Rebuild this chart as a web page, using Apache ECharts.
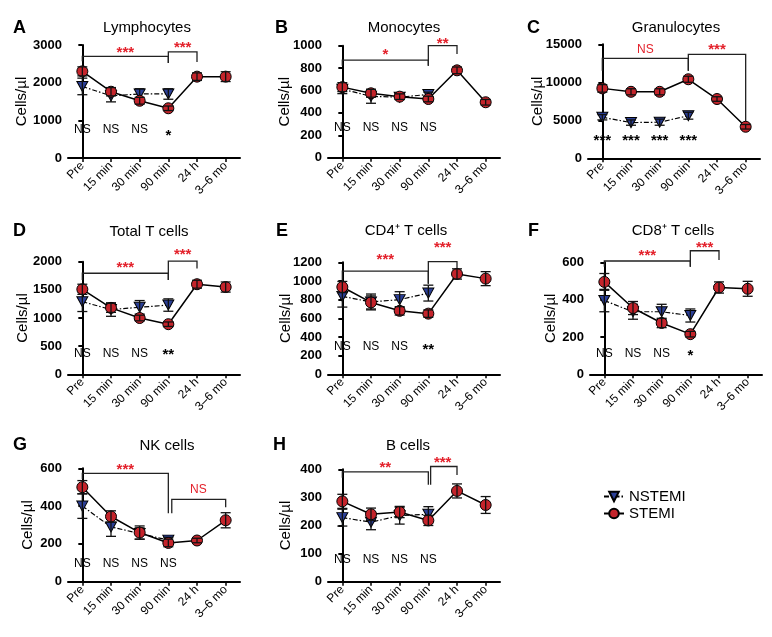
<!DOCTYPE html>
<html><head><meta charset="utf-8">
<script src="https://cdn.jsdelivr.net/npm/echarts@6/dist/echarts.min.js"></script>
<style>html,body{margin:0;padding:0;background:#fff}#c{width:772px;height:637px}</style>
</head><body><div id="c"></div>
<script>
const categories = ['Pre', '15 min', '30 min', '90 min', '24 h', '3–6 mo'];

// A Lymphocytes
const lymphStemi = [2300, 1760, 1520, 1320, 2160, 2160];
const lymphStemiErr = [120, 110, 90, 60, 100, 130];
const lymphNstemi = [1900, 1650, 1700, 1700];
const lymphNstemiErr = [220, 160, 140, 140];
const lymphBrackets = [[0, 3, 2700, 2570, 2520], [3, 4, 2820, 2520, 2550]];
const lymphLabels = [[1.5, 2800, '***', 'r'], [3.5, 2920, '***', 'r'], [0, 740, 'NS', 'k'], [1, 740, 'NS', 'k'], [2, 740, 'NS', 'k'], [3, 590, '*', 'k']];

// B Monocytes
const monoStemi = [630, 575, 545, 524, 780, 495];
const monoStemiErr = [40, 35, 25, 25, 30, 25];
const monoNstemi = [612, 548, 540, 565];
const monoNstemiErr = [40, 62, 20, 20];
const monoBrackets = [[0, 3, 872, 821, 821], [3, 4, 1000, 821, 926]];
const monoLabels = [[1.5, 920, '*', 'r'], [3.5, 1018, '**', 'r'], [0, 268, 'NS', 'k'], [1, 268, 'NS', 'k'], [2, 268, 'NS', 'k'], [3, 268, 'NS', 'k']];

// C Granulocytes
const granStemi = [9200, 8750, 8750, 10400, 7800, 4150];
const granStemiErr = [500, 400, 400, 400, 300, 300];
const granNstemi = [5400, 4700, 4750, 5600];
const granNstemiErr = [350, 350, 400, 450];
const granBrackets = [[0, 3, 13160, 11530, 11530], [3, 5, 13680, 11530, 4600]];
const granLabels = [[1.5, 14250, 'NS', 'r'], [4, 14290, '***', 'r'], [0, 2240, '***', 'k'], [1, 2240, '***', 'k'], [2, 2240, '***', 'k'], [3, 2240, '***', 'k']];

// D Total T cells
const tStemi = [1510, 1180, 1000, 890, 1600, 1550];
const tStemiErr = [90, 80, 50, 40, 70, 90];
const tNstemi = [1290, 1150, 1190, 1230];
const tNstemiErr = [175, 120, 120, 110];
const tBrackets = [[0, 3, 1795, 1675, 1675], [3, 4, 2010, 1675, 1880]];
const tLabels = [[1.5, 1888, '***', 'r'], [3.5, 2124, '***', 'r'], [0, 373, 'NS', 'k'], [1, 373, 'NS', 'k'], [2, 373, 'NS', 'k'], [3, 348, '**', 'k']];

// E CD4+ T cells
const cd4Stemi = [935, 770, 680, 650, 1075, 1025];
const cd4StemiErr = [60, 70, 45, 40, 55, 75];
const cd4Nstemi = [835, 775, 800, 870];
const cd4NstemiErr = [115, 85, 85, 85];
const cd4Brackets = [[0, 3, 1105, 1000, 970], [3, 4, 1207, 970, 1125]];
const cd4Labels = [[1.5, 1222, '***', 'r'], [3.5, 1354, '***', 'r'], [0, 296, 'NS', 'k'], [1, 296, 'NS', 'k'], [2, 296, 'NS', 'k'], [3, 264, '**', 'k']];

// F CD8+ T cells
const cd8Stemi = [495, 355, 275, 215, 465, 458];
const cd8StemiErr = [45, 35, 25, 15, 30, 40];
const cd8Nstemi = [395, 335, 335, 315];
const cd8NstemiErr = [60, 40, 40, 35];
const cd8Brackets = [[0, 3, 607, 576, 576], [3, 4, 662, 576, 612]];
const cd8Labels = [[1.5, 632, '***', 'r'], [3.5, 680, '***', 'r'], [0, 112, 'NS', 'k'], [1, 112, 'NS', 'k'], [2, 112, 'NS', 'k'], [3, 100, '*', 'k']];

// G NK cells
const nkStemi = [500, 345, 260, 205, 218, 325];
const nkStemiErr = [35, 30, 35, 20, 12, 40];
const nkNstemi = [400, 290, 255, 220];
const nkNstemiErr = [65, 50, 30, 15];
const nkBrackets = [[0, 3, 573, 543, 362], [3.12, 5, 436, 362, 394]];
const nkLabels = [[1.5, 593, '***', 'r'], [4.05, 485, 'NS', 'r'], [0, 97, 'NS', 'k'], [1, 97, 'NS', 'k'], [2, 97, 'NS', 'k'], [3, 97, 'NS', 'k']];

// H B cells
const bStemi = [286, 240, 248, 218, 323, 273];
const bStemiErr = [25, 22, 20, 18, 25, 30];
const bNstemi = [228, 212, 235, 240];
const bNstemiErr = [30, 27, 30, 27];
const bBrackets = [[0, 3, 391, 370, 345], [3.08, 4, 410, 345, 380]];
const bLabels = [[1.5, 405, '**', 'r'], [3.5, 422, '***', 'r'], [0, 77, 'NS', 'k'], [1, 77, 'NS', 'k'], [2, 77, 'NS', 'k'], [3, 77, 'NS', 'k']];

const titles = ['Lymphocytes', 'Monocytes', 'Granulocytes', 'Total T cells', 'CD4⁺ T cells', 'CD8⁺ T cells', 'NK cells', 'B cells'];
const letters = ['A', 'B', 'C', 'D', 'E', 'F', 'G', 'H'];

const FONT = '"Liberation Sans", Arial, Helvetica, sans-serif';
const RED = '#e3212b';
const TRI = 'path://M0,0L10,0L5,9Z';

const panels = [
  {s: lymphStemi, se: lymphStemiErr, n: lymphNstemi, ne: lymphNstemiErr, br: lymphBrackets, lb: lymphLabels, g: [68, 45, 172, 113], max: 3000, iv: 1000, gap: 38.5, t: [147, 28], l: [13, 28]},
  {s: monoStemi, se: monoStemiErr, n: monoNstemi, ne: monoNstemiErr, br: monoBrackets, lb: monoLabels, g: [328, 45.7, 172, 112], max: 1000, iv: 200, gap: 35.5, t: [404, 28], l: [275, 28]},
  {s: granStemi, se: granStemiErr, n: granNstemi, ne: granNstemiErr, br: granBrackets, lb: granLabels, g: [588, 44.3, 172, 114], max: 15000, iv: 5000, gap: 42.5, t: [676, 28], l: [527, 28]},
  {s: tStemi, se: tStemiErr, n: tNstemi, ne: tNstemiErr, br: tBrackets, lb: tLabels, g: [68, 261.7, 172, 112.6], max: 2000, iv: 500, gap: 37.5, t: [149, 232], l: [13, 231]},
  {s: cd4Stemi, se: cd4StemiErr, n: cd4Nstemi, ne: cd4NstemiErr, br: cd4Brackets, lb: cd4Labels, g: [328, 262.3, 172, 112], max: 1200, iv: 200, gap: 34.5, t: [406, 231], l: [276, 231]},
  {s: cd8Stemi, se: cd8StemiErr, n: cd8Nstemi, ne: cd8NstemiErr, br: cd8Brackets, lb: cd8Labels, g: [590, 262.3, 172, 112], max: 600, iv: 200, gap: 31.5, t: [673, 231], l: [528, 231]},
  {s: nkStemi, se: nkStemiErr, n: nkNstemi, ne: nkNstemiErr, br: nkBrackets, lb: nkLabels, g: [68, 468.3, 172, 113.4], max: 600, iv: 200, gap: 32.5, t: [167, 446], l: [13, 445]},
  {s: bStemi, se: bStemiErr, n: bNstemi, ne: bNstemiErr, br: bBrackets, lb: bLabels, g: [328, 469.3, 172, 112.4], max: 400, iv: 100, gap: 34.5, t: [408, 446], l: [273, 445]}
];

function errorSeries(vals, errs, xa, ya, z) {
  return {
    type: 'custom', xAxisIndex: xa, yAxisIndex: ya, z: z, silent: true, clip: false, animation: false,
    data: vals.map((v, k) => [k, v - errs[k], v + errs[k]]),
    encode: {x: 0, y: [1, 2]},
    renderItem: (params, api) => {
      const lo = api.coord([api.value(0), api.value(1)]);
      const hi = api.coord([api.value(0), api.value(2)]);
      const w = 5, st = {stroke: '#111', lineWidth: 1.3};
      return {type: 'group', children: [
        {type: 'line', shape: {x1: lo[0], y1: lo[1], x2: hi[0], y2: hi[1]}, style: st},
        {type: 'line', shape: {x1: lo[0] - w, y1: lo[1], x2: lo[0] + w, y2: lo[1]}, style: st},
        {type: 'line', shape: {x1: hi[0] - w, y1: hi[1], x2: hi[0] + w, y2: hi[1]}, style: st}
      ]};
    }
  };
}

const grid = [], xAxis = [], yAxis = [], series = [], graphic = [];
panels.forEach((p, i) => {
  grid.push({left: p.g[0], top: p.g[1], width: p.g[2], height: p.g[3], containLabel: false, outerBoundsMode: 'none'});
  xAxis.push({
    type: 'category', gridIndex: i, data: categories, boundaryGap: true,
    axisLine: {lineStyle: {color: '#000', width: 2}},
    axisTick: {show: true, alignWithLabel: true, length: 4, lineStyle: {width: 1.5, color: '#000'}},
    axisLabel: {rotate: 45, fontSize: 12, color: '#000', fontFamily: FONT, margin: 6, interval: 0},
    splitLine: {show: false}
  });
  xAxis.push({type: 'value', gridIndex: i, min: -0.5, max: 5.5, show: false, splitLine: {show: false}});
  yAxis.push({
    type: 'value', gridIndex: i, min: 0, max: p.max, interval: p.iv,
    name: 'Cells/µl', nameLocation: 'middle', nameGap: p.gap, nameMoveOverlap: false,
    nameTextStyle: {fontSize: 15, color: '#000', fontFamily: FONT},
    axisLine: {show: true, lineStyle: {color: '#000', width: 2}},
    axisTick: {show: true, length: 4, lineStyle: {width: 2, color: '#000'}},
    splitLine: {show: false},
    axisLabel: {fontSize: 13, fontWeight: 'bold', color: '#000', margin: 6, fontFamily: FONT, formatter: v => String(v)}
  });
  const xa = 2 * i, xv = 2 * i + 1;
  series.push({
    type: 'line', name: 'NSTEMI', xAxisIndex: xa, yAxisIndex: i, data: p.n, z: 3, animation: false,
    symbol: TRI, symbolSize: [11, 10], showAllSymbol: true,
    lineStyle: {color: '#000', width: 1.2, type: [5, 2, 1.5, 2]},
    itemStyle: {color: '#2b3f96', borderColor: '#000', borderWidth: 1}
  });
  series.push(errorSeries(p.n, p.ne, xa, i, 4));
  series.push({
    type: 'line', name: 'STEMI', xAxisIndex: xa, yAxisIndex: i, data: p.s, z: 5, animation: false,
    symbol: 'circle', symbolSize: 11, showAllSymbol: true,
    lineStyle: {color: '#000', width: 1.5},
    itemStyle: {color: '#c4242b', borderColor: '#000', borderWidth: 1}
  });
  series.push(errorSeries(p.s, p.se, xa, i, 6));
  const br = p.br;
  series.push({
    type: 'custom', xAxisIndex: xv, yAxisIndex: i, silent: true, clip: false, animation: false, z: 2,
    data: br.map(b => [b[0], b[1], b[2], b[3], b[4]]),
    encode: {x: [0, 1], y: [2, 3, 4]},
    renderItem: (params, api) => {
      const b = br[params.dataIndex];
      const a = api.coord([b[0], b[3]]), tl = api.coord([b[0], b[2]]), tr = api.coord([b[1], b[2]]), c = api.coord([b[1], b[4]]);
      return {type: 'polyline', shape: {points: [a, tl, tr, c]}, style: {stroke: '#222', lineWidth: 1.3, fill: null}};
    }
  });
  const lb = p.lb;
  series.push({
    type: 'custom', xAxisIndex: xv, yAxisIndex: i, silent: true, clip: false, animation: false, z: 7,
    data: lb.map(t => [t[0], t[1]]),
    encode: {x: 0, y: 1},
    renderItem: (params, api) => {
      const t = lb[params.dataIndex];
      const pt = api.coord([t[0], t[1]]);
      const star = t[2].indexOf('*') >= 0;
      return {type: 'text', x: pt[0], y: pt[1], style: {
        text: t[2], fill: t[3] === 'r' ? RED : '#000', fontFamily: FONT,
        fontSize: star ? 15 : 12, fontWeight: star ? 'bold' : 'normal',
        align: 'center', verticalAlign: 'middle'
      }};
    }
  });
  graphic.push({type: 'text', x: p.t[0], y: p.t[1], style: {text: titles[i], fontSize: 15, fontFamily: FONT, fill: '#000', align: 'center', verticalAlign: 'middle'}});
  graphic.push({type: 'text', x: p.l[0], y: p.l[1], style: {text: letters[i], fontSize: 18, fontWeight: 'bold', fontFamily: FONT, fill: '#000', align: 'left', verticalAlign: 'middle'}});
});

const chart = echarts.init(document.getElementById('c'), null, {renderer: 'canvas'});
chart.setOption({
  backgroundColor: '#fff',
  animation: false,
  grid, xAxis, yAxis, series, graphic,
  legend: {
    orient: 'vertical', left: 603, top: 489, itemGap: 2, itemWidth: 20, itemHeight: 12, padding: 0,
    data: ['NSTEMI', 'STEMI'], selectedMode: false,
    textStyle: {fontSize: 15, color: '#000', fontFamily: FONT}
  }
});
</script></body></html>
